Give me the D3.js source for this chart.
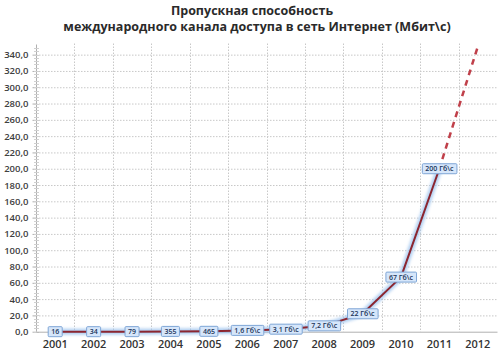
<!DOCTYPE html>
<html><head><meta charset="utf-8">
<script src="https://cdn.jsdelivr.net/npm/d3@7"></script>
<style>
body{margin:0;background:#fff;}
svg{display:block;font-family:"Open Sans","DejaVu Sans",sans-serif;}
</style></head>
<body><svg id="c" width="500" height="355"></svg>
<script>
const years = ["2001","2002","2003","2004","2005","2006","2007","2008","2009","2010","2011","2012"];
const values = [0.016, 0.034, 0.079, 0.355, 0.465, 1.6, 3.1, 7.2, 22, 67, 200];
const labels = ["16","34","79","355","465","1,6 Гб\\с","3,1 Гб\\с","7,2 Гб\\с","22 Гб\\с","67 Гб\\с","200 Гб\\с"];
const forecastYears = ["2011","2012"];
const forecastValues = [200, 350];
const yTicks = [0,20,40,60,80,100,120,140,160,180,200,220,240,260,280,300,320,340];
const titleLines = ["Пропускная способность","международного канала доступа в сеть Интернет (Мбит\\с)"];

const svg = d3.select("#c");
const m = {l:36, r:497, t:46.5, b:331.7};
const x = d3.scaleBand().domain(years).range([m.l, m.r]);
const y = d3.scaleLinear().domain([0,350]).range([m.b, m.t]);
const cx = d => x(d) + x.bandwidth()/2;

const defs = svg.append("defs");
const f = defs.append("filter").attr("id","glow").attr("x","-20%").attr("y","-20%").attr("width","140%").attr("height","140%");
f.append("feGaussianBlur").attr("stdDeviation",1.6);

// title
svg.append("g").selectAll("text").data(titleLines).join("text")
  .attr("x", (d,i)=> i===0 ? 252 : 257).attr("y",(d,i)=>15+i*16)
  .attr("text-anchor","middle").attr("font-weight","bold").attr("font-size",12.5).attr("fill","#2a2a2a")
  .text(d=>d);

// horizontal grid
svg.append("g").selectAll("line").data(yTicks.filter(d=>d>0)).join("line")
  .attr("x1",m.l).attr("x2",m.r).attr("y1",d=>y(d)+0.5).attr("y2",d=>y(d)+0.5)
  .attr("stroke","#c8c8c8").attr("stroke-width",1).attr("stroke-dasharray","1.5,1.5");
// vertical grid at band boundaries
svg.append("g").selectAll("line").data(years.slice(1)).join("line")
  .attr("x1",d=>Math.round(x(d))+0.5).attr("x2",d=>Math.round(x(d))+0.5).attr("y1",m.t-3).attr("y2",m.b)
  .attr("stroke","#c8c8c8").attr("stroke-width",1).attr("stroke-dasharray","1.5,1.5");

// y axis
const yAxis = d3.axisLeft(y).tickValues(yTicks).tickSize(4).tickFormat(d=>d3.format(".1f")(d).replace(".",","));
const ya = svg.append("g").attr("transform",`translate(${m.l+0.5},0)`).call(yAxis);
ya.select(".domain").attr("stroke","#b0b0b0").attr("d",`M0,${m.t-2}V${m.b}`);
ya.selectAll(".tick line").attr("stroke","#b0b0b0");
ya.selectAll(".tick text").attr("font-size",9.5).attr("font-weight","600").attr("fill","#404040").attr("font-family","'Open Sans',sans-serif").attr("dx",-1);
const minor = d3.range(0,351,4);
svg.append("g").selectAll("line").data(minor).join("line")
  .attr("x1",m.l-2).attr("x2",m.l+3).attr("y1",d=>Math.round(y(d))+0.5).attr("y2",d=>Math.round(y(d))+0.5)
  .attr("stroke","#d0d0d0").attr("stroke-width",1);

// x axis
const xAxis = d3.axisBottom(x).tickSize(0).tickPadding(9);
const xa = svg.append("g").attr("transform",`translate(0,${m.b})`).call(xAxis);
xa.select(".domain").attr("stroke","#b0b0b0");
xa.selectAll(".tick text").attr("font-size",11).attr("font-weight","600").attr("fill","#333").attr("font-family","'Open Sans',sans-serif");

// line
const pts = values.map((v,i)=>[cx(years[i]), y(v)]);
const line = d3.line();
const fpts = forecastValues.map((v,i)=>[cx(forecastYears[i]), y(v)]);
svg.append("path").attr("d",line(pts)).attr("fill","none").attr("stroke","#9cc3ee").attr("stroke-width",6).attr("opacity",0.8).attr("filter","url(#glow)");
svg.append("path").attr("d",line(pts)).attr("fill","none").attr("stroke","#8c2630").attr("stroke-width",2).attr("stroke-linejoin","round");
svg.append("path").attr("d",line(fpts)).attr("fill","none").attr("stroke","#c0404a").attr("stroke-width",2.5).attr("stroke-dasharray","6,5").attr("stroke-dashoffset",-10);

// labels
const lg = svg.append("g").selectAll("g").data(values).join("g")
  .attr("transform",(d,i)=>`translate(${cx(years[i])},${y(d)})`);
lg.append("text").attr("class","lbl").attr("text-anchor","middle").attr("dy","0.35em")
  .attr("font-size",7).attr("font-weight","600").attr("fill","#1a3358").attr("font-family","'Open Sans',sans-serif")
  .text((d,i)=>labels[i]);
lg.each(function(){
  const g = d3.select(this); const t = g.select("text"); const bb = t.node().getBBox();
  g.insert("rect","text").attr("x",bb.x-3).attr("y",-5).attr("width",bb.width+6).attr("height",10)
   .attr("fill","#d6e6fa").attr("stroke","#7fa6d6").attr("stroke-width",1).attr("rx",1);
});
</script></body></html>
